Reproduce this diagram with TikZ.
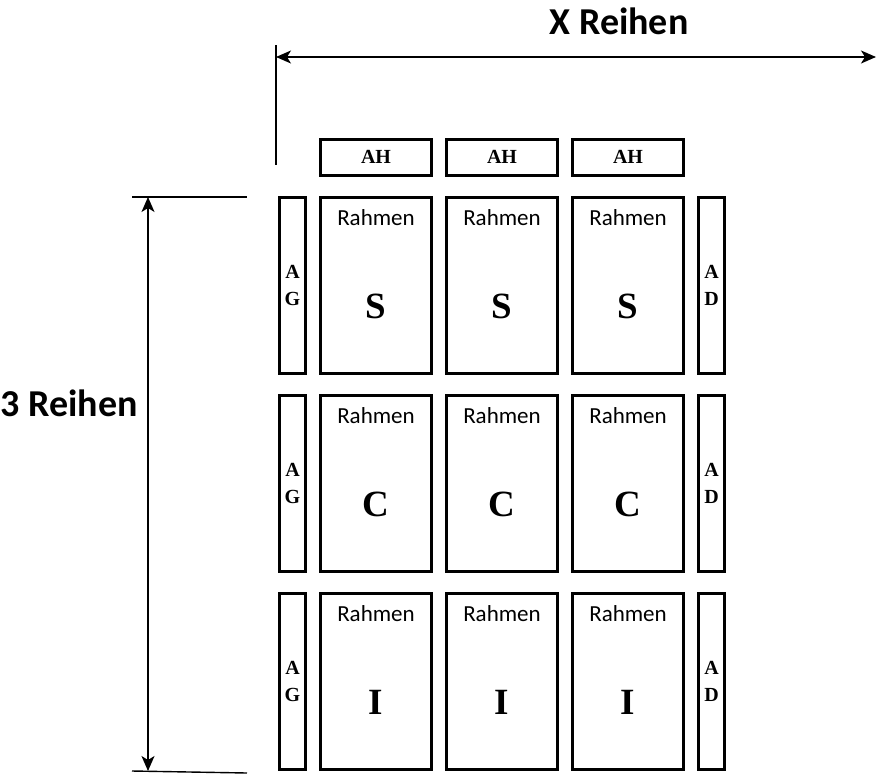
\documentclass[tikz,border=0pt]{standalone}
\usepackage{fontspec}
\usetikzlibrary{arrows.meta}
\newfontfamily\calibri{Carlito}
\newfontfamily\cambria{Liberation Serif}
\tikzset{>={Stealth[length=15pt,width=13pt,inset=4pt]}}

\begin{document}
\begin{tikzpicture}[x=1pt,y=-1pt]
\useasboundingbox (0,0) rectangle (878,774);
\begin{scope}[every node/.style={draw,line width=3pt,inner sep=0pt,minimum width=111pt,minimum height=36pt,font=\cambria\bfseries\fontsize{20}{20}\selectfont}]
\node (AH1) at (376,157) {AH};
\node (AH2) at (502,157) {AH};
\node (AH3) at (628,157) {AH};
\end{scope}
\begin{scope}[every node/.style={draw,line width=3pt,inner sep=0pt,minimum width=26pt,minimum height=176pt,align=center,font=\cambria\bfseries\fontsize{20}{27}\selectfont}]
\node (AG1) at (292.5,285.5) {A\\G};
\node (AG2) at (292.5,483.5) {A\\G};
\node (AG3) at (292.5,681) {A\\G};
\node (AD1) at (711.5,285.5) {A\\D};
\node (AD2) at (711.5,483.5) {A\\D};
\node (AD3) at (711.5,681) {A\\D};
\end{scope}
\begin{scope}[every node/.style={draw,line width=3pt,inner sep=0pt,minimum width=111pt,minimum height=176pt}]
\node (S1) at (376,285.5) {};
\node (S2) at (502,285.5) {};
\node (S3) at (628,285.5) {};
\node (C1) at (376,483.5) {};
\node (C2) at (502,483.5) {};
\node (C3) at (628,483.5) {};
\node (I1) at (376,681) {};
\node (I2) at (502,681) {};
\node (I3) at (628,681) {};
\end{scope}
\begin{scope}[every node/.style={inner sep=0pt,font=\calibri\fontsize{23}{23}\selectfont}]
\node (RS1) at ([yshift=-22pt]S1.north) {Rahmen};
\node (RS2) at ([yshift=-22pt]S2.north) {Rahmen};
\node (RS3) at ([yshift=-22pt]S3.north) {Rahmen};
\node (RC1) at ([yshift=-22pt]C1.north) {Rahmen};
\node (RC2) at ([yshift=-22pt]C2.north) {Rahmen};
\node (RC3) at ([yshift=-22pt]C3.north) {Rahmen};
\node (RI1) at ([yshift=-22pt]I1.north) {Rahmen};
\node (RI2) at ([yshift=-22pt]I2.north) {Rahmen};
\node (RI3) at ([yshift=-22pt]I3.north) {Rahmen};
\end{scope}
\begin{scope}[every node/.style={inner sep=0pt,font=\cambria\bfseries\fontsize{37}{37}\selectfont}]
\node (LS1) at ([yshift=-21pt]S1.center) {S};
\node (LS2) at ([yshift=-21pt]S2.center) {S};
\node (LS3) at ([yshift=-21pt]S3.center) {S};
\node (LC1) at ([yshift=-21pt]C1.center) {C};
\node (LC2) at ([yshift=-21pt]C2.center) {C};
\node (LC3) at ([yshift=-21pt]C3.center) {C};
\node (LI1) at ([yshift=-21pt]I1.center) {I};
\node (LI2) at ([yshift=-21pt]I2.center) {I};
\node (LI3) at ([yshift=-21pt]I3.center) {I};
\end{scope}
% Bemassung
\node[font=\calibri\bfseries\fontsize{38}{38}\selectfont] (XT) at (619,21) {X Reihen};
\node[font=\calibri\bfseries\fontsize{38}{38}\selectfont] (YT) at (69,403) {3 Reihen};
\coordinate (XA) at (276,57);
\coordinate (XB) at (876,57);
\coordinate (VA) at (276,45);
\coordinate (VB) at (276,165);
\coordinate (YA) at (148,197);
\coordinate (YB) at (148,771);
\coordinate (HA1) at (132,197);
\coordinate (HA2) at (247,197);
\coordinate (HB1) at (132,771);
\coordinate (HB2) at (247,773);
\draw[<->,line width=1.4pt] (XA) -- (XB);
\draw[line width=1.2pt] (VA) -- (VB);
\draw[<->,line width=1.4pt] (YA) -- (YB);
\draw[line width=1.4pt] (HA1) -- (HA2);
\draw[line width=1.4pt] (HB1) -- (HB2);
\end{tikzpicture}
\end{document}
